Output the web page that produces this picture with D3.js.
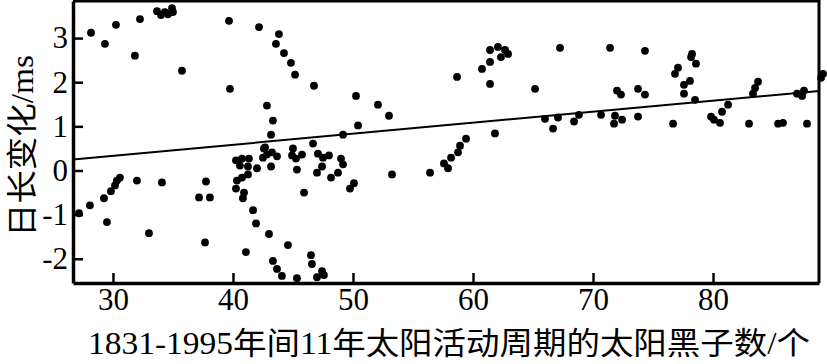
<!DOCTYPE html>
<html lang="zh">
<head>
<meta charset="utf-8">
<title>日长变化与太阳黑子数</title>
<script src="https://d3js.org/d3.v7.min.js"></script>
<style>
  body { margin: 0; background: #fff; }
  svg { display: block; }
  .axis text { font-family: "Liberation Serif", "DejaVu Serif", serif; font-size: 31px; fill: #000; }
  .axis path, .axis line { stroke: #000; }
</style>
</head>
<body>
<svg id="chart" width="827" height="364"></svg>
<script>
// sunspot number (x) and length-of-day change in ms (y)
const sunspots = [
  27.17, 28.08, 29.25, 29.5, 29.83, 30.17, 30.33, 30.58, 32.0, 33.0, 34.08,
  28.17, 29.33, 30.25, 31.83, 32.25, 33.67, 34.0, 34.33, 34.58, 34.92, 35.0, 35.75,
  37.17, 37.75, 38.08, 37.67, 39.67, 39.75,
  42.17, 43.83, 43.58, 44.25, 44.83, 45.17, 46.75, 42.83, 43.33, 43.17, 42.67,
  40.25, 40.75, 41.33, 40.58, 41.25, 42.0, 40.33, 40.75, 41.25, 40.25, 40.92, 40.83,
  42.58, 42.5, 42.83, 43.25, 43.67, 43.17, 45.0, 44.92, 45.25, 45.75, 45.33,
  46.67, 47.08, 47.5, 48.0, 47.42, 47.0, 48.17, 48.75, 49.0, 49.17, 49.17, 50.08, 49.75, 45.92,
  41.67, 41.92, 43.0, 41.08, 43.33, 43.67, 44.08, 45.33, 44.58, 46.5, 46.58, 47.0, 47.42, 47.58,
  50.25, 52.08, 53.0, 50.42, 53.25,
  56.42, 57.58, 57.92, 58.17, 58.75, 58.92, 59.42, 61.83,
  58.67, 60.75, 61.42, 62.08, 62.67, 61.42, 62.33, 62.92, 61.42, 65.17, 66.0,
  67.25, 71.42, 74.33, 78.25, 78.17, 78.58, 77.08, 76.83, 78.08, 77.58, 77.58, 78.5,
  83.75, 83.5, 83.33, 89.17, 89.0, 87.58, 87.42, 87.0,
  72.0, 72.33, 73.75, 74.33,
  66.67, 67.08, 68.42, 68.83, 70.67, 71.83, 71.75, 72.42, 73.75, 76.67,
  79.83, 80.08, 80.58, 80.75, 81.25, 83.0, 85.42, 85.83, 87.83
];
const lodChange = [
  -0.97, -0.79, -0.63, -1.17, -0.47, -0.34, -0.23, -0.16, -0.23, -1.42, -0.27,
  3.12, 2.87, 3.30, 2.60, 3.43, 3.61, 3.52, 3.59, 3.54, 3.68, 3.59, 2.26,
  -0.61, -0.25, -0.61, -1.63, 3.39, 1.85,
  3.25, 3.09, 2.87, 2.66, 2.44, 2.17, 1.92, 1.47, 1.13, 0.81, 0.52,
  0.23, 0.27, 0.27, 0.11, 0.09, 0.05, -0.23, -0.16, -0.09, -0.41, -0.50, -0.63,
  0.50, 0.29, 0.36, 0.41, 0.32, 0.09, 0.50, 0.34, 0.27, 0.36, 0.02,
  0.61, 0.38, 0.29, 0.34, 0.09, -0.05, -0.16, -0.05, 0.27, 0.14, 0.81, -0.29, -0.41, -0.50,
  -0.90, -1.20, -1.44, -1.85, -2.05, -2.23, -2.39, -2.44, -1.69, -1.92, -2.12, -2.42, -2.28, -2.37,
  1.69, 1.49, 1.24, 1.02, -0.09,
  -0.05, 0.16, 0.05, 0.29, 0.41, 0.56, 0.72, 0.84,
  2.12, 2.30, 2.73, 2.80, 2.73, 2.46, 2.57, 2.64, 1.96, 1.85, 1.17,
  2.78, 2.78, 2.71, 2.64, 2.57, 2.42, 2.33, 2.19, 2.03, 1.94, 1.74, 1.60,
  2.01, 1.87, 1.74, 2.19, 2.10, 1.81, 1.69, 1.74,
  1.81, 1.72, 1.85, 1.72,
  0.95, 1.20, 1.11, 1.26, 1.26, 1.24, 1.06, 1.15, 1.22, 1.06,
  1.22, 1.15, 1.08, 1.33, 1.49, 1.06, 1.06, 1.08, 1.06
];

// fitted trend line end points
const fitX = [26.67, 88.83];
const fitY = [0.25, 1.80];

const xTicks = [30, 40, 50, 60, 70, 80];
const yTicks = [-2, -1, 0, 1, 2, 3];
const xTitle = "1831-1995年间11年太阳活动周期的太阳黑子数/个";
const yTitle = "日长变化/ms";

const svg = d3.select("#chart");
const margin = { top: 1, right: 8, bottom: 81, left: 73 };
const W = 827, H = 364;

const x = d3.scaleLinear().domain([26.67, 88.83]).range([margin.left, W - margin.right]);
const y = d3.scaleLinear().domain([-2.55, 3.84]).range([H - margin.bottom, margin.top]);

// frame (top and right)
svg.append("path")
  .attr("d", `M${x.range()[0]},${y.range()[1]}H${x.range()[1]}V${y.range()[0]}`)
  .attr("fill", "none").attr("stroke", "#000").attr("stroke-width", 3);

// axes with inward ticks
svg.append("g").attr("class", "axis")
  .attr("transform", `translate(0,${y.range()[0]})`)
  .call(d3.axisBottom(x).tickValues(xTicks).tickSizeInner(-10).tickSizeOuter(0).tickPadding(5).tickFormat(d => String(d)));
svg.append("g").attr("class", "axis")
  .attr("transform", `translate(${x.range()[0]},0)`)
  .call(d3.axisLeft(y).tickValues(yTicks).tickSizeInner(-10).tickSizeOuter(0).tickPadding(5).tickFormat(d => String(d)));
svg.selectAll(".axis path").attr("stroke-width", 3.5);
svg.selectAll(".axis line").attr("stroke-width", 2.5);

// trend line
svg.append("line")
  .attr("x1", x(fitX[0])).attr("y1", y(fitY[0]))
  .attr("x2", x(fitX[1])).attr("y2", y(fitY[1]))
  .attr("stroke", "#000").attr("stroke-width", 2);

// points
svg.append("g")
  .selectAll("circle")
  .data(d3.range(sunspots.length))
  .join("circle")
  .attr("cx", i => x(sunspots[i]))
  .attr("cy", i => y(lodChange[i]))
  .attr("r", 3.9)
  .attr("fill", "#000");

// axis titles
svg.append("text")
  .attr("x", 88).attr("y", 354)
  .attr("textLength", 722).attr("lengthAdjust", "spacingAndGlyphs")
  .attr("font-family", "'Liberation Serif', 'Noto Sans CJK SC', serif")
  .attr("font-size", 31)
  .text(xTitle);

svg.append("text")
  .attr("transform", "translate(33,237) rotate(-90)")
  .attr("textLength", 182).attr("lengthAdjust", "spacingAndGlyphs")
  .attr("font-family", "'Liberation Serif', 'Noto Sans CJK SC', serif")
  .attr("font-size", 31)
  .text(yTitle);
</script>
</body>
</html>
